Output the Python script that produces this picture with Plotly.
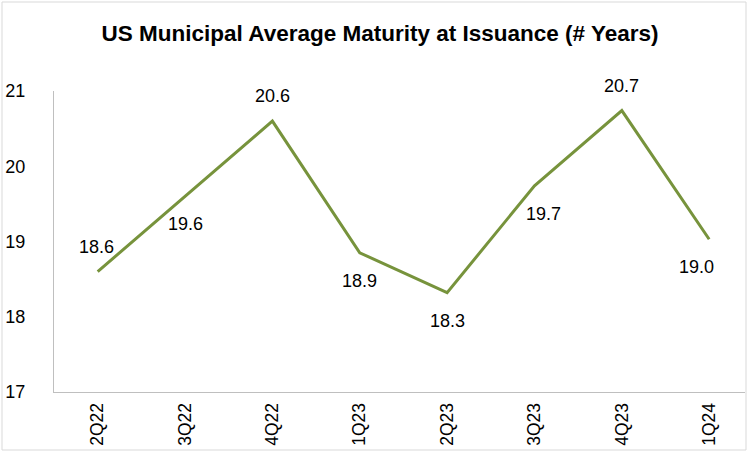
import plotly.graph_objects as go

categories = ["2Q22", "3Q22", "4Q22", "1Q23", "2Q23", "3Q23", "4Q23", "1Q24"]
values = [18.6, 19.6, 20.6, 18.85, 18.32, 19.74, 20.74, 19.03]
labels = ["18.6", "19.6", "20.6", "18.9", "18.3", "19.7", "20.7", "19.0"]
label_above = [True, False, True, False, False, False, True, False]
y_ticks = [17, 18, 19, 20, 21]

# label nudges (pixels) to mimic the original placement
label_dx = [-1, 0, 0, 0, 0, 9, 0, -13]

W, H = 748, 453
L, R, T, B = 54, 3, 91, 61
FONT = "Liberation Sans, Arial"

fig = go.Figure()
fig.add_trace(go.Scatter(
    x=categories, y=values, mode="lines",
    line=dict(color="#77933C", width=3),
    showlegend=False, hoverinfo="skip",
))

annotations = []
for c, v, t, above, dx in zip(categories, values, labels, label_above, label_dx):
    annotations.append(dict(
        x=c, y=v, xref="x", yref="y", text=t, showarrow=False,
        xanchor="center", yanchor="middle",
        yshift=25 if above else -28, xshift=dx,
        font=dict(family=FONT, size=18, color="#000000"),
    ))

pw = W - L - R
ph = H - T - B
fig.update_layout(
    width=W, height=H,
    margin=dict(l=L, r=R, t=T, b=B, pad=0, autoexpand=False),
    paper_bgcolor="white", plot_bgcolor="white",
    title=dict(text="<b>US Municipal Average Maturity at Issuance (# Years)</b>",
               x=380 / W, xref="container", xanchor="center", y=1 - 33 / H, yanchor="middle",
               font=dict(family=FONT, size=22.5, color="#000000")),
    xaxis=dict(type="category", categoryorder="array", categoryarray=categories,
               range=[-0.5, 7.41], showgrid=False, showline=True, linecolor="#BFBFBF",
               linewidth=1, ticks="", tickangle=-90, automargin=False,
               tickfont=dict(family=FONT, size=17.5, color="#000000"),
               ticklabelstandoff=3),
    yaxis=dict(range=[17, 21], tickvals=y_ticks, showgrid=False, showline=True,
               linecolor="#BFBFBF", linewidth=1, ticks="", zeroline=False,
               automargin=False,
               tickfont=dict(family=FONT, size=18, color="#000000"),
               ticklabelstandoff=24),
    annotations=annotations,
    shapes=[dict(type="rect", xref="paper", yref="paper",
                 x0=(2 - L) / pw, x1=(W - 2 - L) / pw,
                 y0=-(B - 3) / ph, y1=1 + (T - 2) / ph,
                 line=dict(color="#D9D9D9", width=1), fillcolor="rgba(0,0,0,0)",
                 layer="above")],
)

fig.write_html("out.html", config={"displayModeBar": False},
               post_script="document.body.style.margin='0';")
